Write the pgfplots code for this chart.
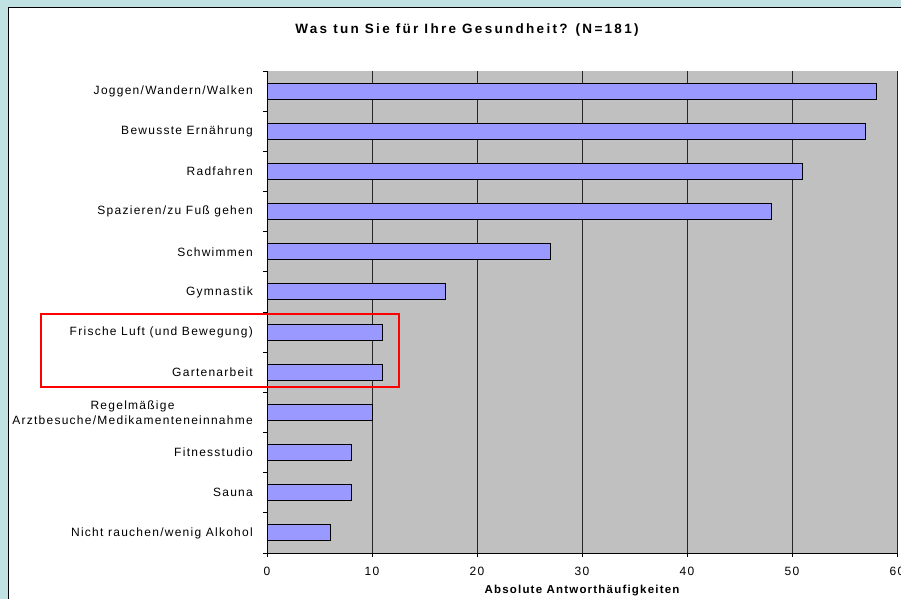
\documentclass[border=0pt]{standalone}
\usepackage{pgfplots}
\pgfplotsset{compat=1.18}
\usepackage{pgfplotstable}
\usepackage{fontspec}
\setmainfont{Liberation Sans}
\newfontfamily\lab{Liberation Sans}[LetterSpace=10.5]
\newfontfamily\tit{Liberation Sans}[LetterSpace=17]
\definecolor{cyanbg}{RGB}{192,226,226}
\definecolor{plotgray}{RGB}{192,192,192}
\definecolor{barblue}{RGB}{153,153,255}
\pgfplotstableread{
y val
0 6
1 8
2 8
3 10
4 11
5 11
6 17
7 27
8 48
9 51
10 57
11 58
}\datatab
\begin{document}
\begin{tikzpicture}
\useasboundingbox (0,0) rectangle (901bp,599bp);
\clip (0,0) rectangle (901bp,599bp);
\fill[cyanbg] (0,0) rectangle (901bp,599bp);
\filldraw[fill=white, draw=black, line width=1bp] (8bp,-10bp) rectangle (910bp,591bp);
\begin{axis}[
  at={(267bp,46bp)}, anchor=south west,
  scale only axis, width=630bp, height=482bp,
  xbar, xmin=0, xmax=60, ymin=-0.5, ymax=11.5,
  bar width=16bp,
  axis background/.style={fill=plotgray},
  axis x line*=bottom, axis y line*=left,
  axis line style={black, line width=1bp},
  xmajorgrids, grid style={black!85, line width=0.9bp},
  xtick={0,10,...,60}, tick align=outside, major tick length=4bp,
  minor tick length=4bp,
  ytick={0,...,11},
  minor ytick={-0.5,0.5,...,11.5},
  major y tick style={draw=none},
  minor y tick style={black, line width=0.8bp},
  x tick style={black, line width=0.8bp},
  yticklabels={Nicht rauchen/wenig Alkohol, Sauna, Fitnesstudio, {Regelmäßige\\Arztbesuche/Medikamenteneinnahme}, Gartenarbeit, Frische Luft (und Bewegung), Gymnastik, Schwimmen, Spazieren/zu Fuß gehen, Radfahren, Bewusste Ernährung, Joggen/Wandern/Walken},
  yticklabel style={font=\lab\fontsize{12bp}{15bp}\selectfont, align=center, inner sep=0pt, xshift=-10bp},
  xticklabel style={font=\lab\fontsize{12bp}{13bp}\selectfont, inner sep=0pt, yshift=-10bp},
  /pgf/number format/assume math mode=true,
  xlabel={Absolute Antworthäufigkeiten},
  xlabel style={font=\lab\bfseries\fontsize{11.5bp}{13bp}\selectfont, at={(axis description cs:0.5,-0.078)}, anchor=center},
]
\addplot[fill=barblue, draw=black, line width=0.9bp] table[x=val,y=y]{\datatab};
\end{axis}
\node[font=\tit\bfseries\fontsize{13.5bp}{15bp}\selectfont, anchor=center] at (467bp,569bp) {Was tun Sie für Ihre Gesundheit? (N=181)};
\draw[red, line width=2.5bp] (41bp,212bp) rectangle (399bp,285bp);
\end{tikzpicture}
\end{document}
